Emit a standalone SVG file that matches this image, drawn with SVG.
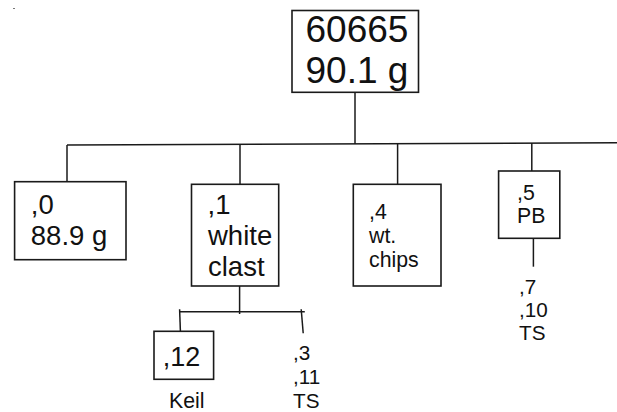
<svg xmlns="http://www.w3.org/2000/svg" width="617" height="412" viewBox="0 0 617 412">
<style>
.box{fill:#fff;stroke:#1a1a1a;stroke-width:1.6}
.ln{fill:none;stroke:#1a1a1a;stroke-width:1.5}
text{font-family:"Liberation Sans",Arial,sans-serif;fill:#111}
.f37{font-size:37px}.f27{font-size:27.5px}.f26{font-size:27px}.f21{font-size:21.3px}.f20{font-size:20.7px}
</style>
<rect width="617" height="412" fill="#fff"/>
<rect x="13" y="8" width="2" height="1" fill="#777"/>
<g id="connectors">
<line class="ln" x1="355" y1="92.3" x2="355" y2="144"/>
<line class="ln" x1="67" y1="145" x2="617" y2="142.7"/>
<line class="ln" x1="67" y1="145" x2="67" y2="181.7"/>
<line class="ln" x1="240" y1="144.3" x2="240" y2="184.3"/>
<line class="ln" x1="397.6" y1="143.6" x2="397.6" y2="184.3"/>
<line class="ln" x1="531.8" y1="143.1" x2="531.8" y2="171"/>
<line class="ln" x1="533.4" y1="238.3" x2="533.4" y2="266.7"/>
<line class="ln" x1="239.6" y1="286" x2="239.6" y2="314"/>
<line class="ln" x1="179.6" y1="311.7" x2="304.8" y2="311.7"/>
<line class="ln" x1="179.6" y1="309.3" x2="180.4" y2="331.3"/>
<line class="ln" x1="301.2" y1="309.3" x2="303.2" y2="333.3"/>
</g>
<g id="n60665">
<rect class="box" x="292" y="10.5" width="126.5" height="81.8"/>
<text class="f37" x="305.5" y="41.7">60665</text>
<text class="f37" x="305.5" y="83.3">90.1 g</text>
</g>
<g id="n0">
<rect class="box" x="14.6" y="181.7" width="111.4" height="78"/>
<text class="f27" x="30.8" y="213.5">,0</text>
<text class="f27" x="30.8" y="245">88.9 g</text>
</g>
<g id="n1">
<rect class="box" x="191.5" y="184.3" width="87.2" height="101.7"/>
<text class="f27" x="207.5" y="213.5">,1</text>
<text class="f27" x="208" y="245">white</text>
<text class="f27" x="208" y="275.5">clast</text>
</g>
<g id="n4">
<rect class="box" x="353.3" y="184.3" width="87.7" height="101.7"/>
<text class="f21" x="369" y="219">,4</text>
<text class="f21" x="369" y="242.7">wt.</text>
<text class="f21" x="369" y="267">chips</text>
</g>
<g id="n5">
<rect class="box" x="498.6" y="171" width="61.2" height="67.3"/>
<text class="f21" x="517" y="199.5">,5</text>
<text class="f21" x="517" y="222.7">PB</text>
</g>
<g id="n7">
<text class="f20" x="519" y="294">,7</text>
<text class="f20" x="519" y="316.7">,10</text>
<text class="f20" x="519" y="340">TS</text>
</g>
<g id="n12">
<rect class="box" x="154" y="331.3" width="59.6" height="48"/>
<text class="f26" x="162.7" y="365.5">,12</text>
<text class="f21" x="169" y="407.5">Keil</text>
</g>
<g id="n3">
<text class="f20" x="293" y="360">,3</text>
<text class="f20" x="293" y="383.5">,11</text>
<text class="f20" x="293" y="408">TS</text>
</g>
</svg>
